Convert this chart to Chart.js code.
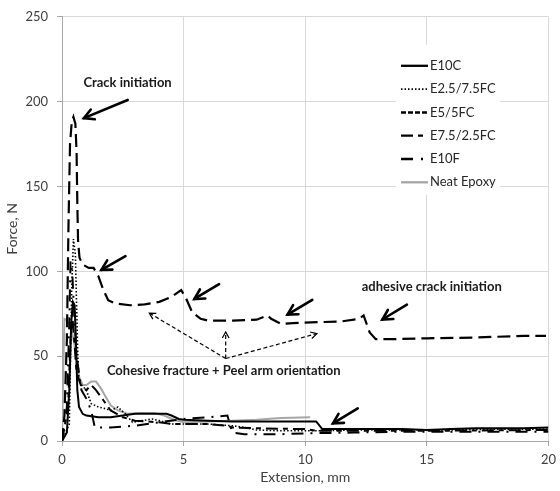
<!DOCTYPE html>
<html>
<head>
<meta charset="utf-8">
<script src="https://cdn.jsdelivr.net/npm/chart.js@4.4.1/dist/chart.umd.min.js"></script>
<style>
  html, body { margin: 0; padding: 0; background: #fff; overflow: hidden; }
  .chart-container { position: relative; width: 562px; height: 491px; }
</style>
</head>
<body>
<div class="chart-container"><canvas id="peelChart"></canvas></div>
<script>
// axis ticks
const xTicks = [0, 5, 10, 15, 20];
const yTicks = [0, 50, 100, 150, 200, 250];

// Extension (mm) and force (N)
const e10cExt   = [0, 0.2, 0.3, 0.38, 0.45, 0.52, 0.58, 0.63, 0.7, 0.85, 1.0, 1.5, 2.0, 2.5, 3.0, 3.5, 4.0, 4.3, 4.5, 4.8, 5.0, 6.0, 7.0, 8.0, 9.0, 10.0, 10.45, 10.7, 12, 13, 14, 15, 16, 17, 18, 19, 20];
const e10cForce = [0, 5, 30, 70, 82, 80, 55, 30, 20, 16, 15, 14, 14, 15, 16, 16, 16, 16, 15, 13, 12.5, 12, 11.5, 11.5, 11.5, 11.5, 11.5, 7, 7, 7, 7, 6.5, 7, 7.5, 7.5, 7.5, 8];

const e25Ext   = [0, 0.3, 0.4, 0.47, 0.55, 0.6, 0.65, 0.7, 0.8, 1.0, 1.2, 1.5, 1.8, 2.0, 2.3, 2.6, 2.9, 3.3, 3.7, 4.0, 4.5, 5.0, 6.0, 7.0, 7.5, 8.0, 9.0, 10.0, 10.5, 12, 14, 16, 18, 20];
const e25Force = [0, 10, 90, 119, 110, 80, 50, 36, 33, 30, 22, 20, 19, 18, 20, 16, 11, 12, 13, 12, 10, 10, 10, 9, 8, 6.5, 6, 6, 6, 6.5, 6.5, 6.5, 7, 7];

const e5Ext   = [0, 0.1, 0.2, 0.27, 0.33, 0.4, 0.47, 0.55, 0.6, 0.63, 0.66, 0.72, 0.85, 1.1, 1.3, 1.5, 1.7, 1.9, 2.2, 2.8, 3.4, 4.0, 4.5, 4.9, 5.1, 5.35, 5.7, 6.0, 7.0, 8.0, 8.45, 8.6, 9.0, 9.5, 10.5, 11.5, 12.2, 12.4, 12.65, 12.9, 13.5, 15, 17, 19, 19.9];
const e5Force = [0, 15, 60, 130, 175, 188, 191, 187, 170, 140, 118, 108, 104, 102, 102, 97, 89, 83, 81, 80, 80.5, 82, 85, 89, 84, 76, 72, 71, 71, 71.5, 74, 72, 69, 69.5, 70, 70.5, 72, 74, 64, 60, 60, 60.5, 61, 62, 62];

const e75Ext   = [0, 0.25, 0.35, 0.42, 0.5, 0.6, 0.8, 1.0, 1.2, 1.4, 1.7, 2.0, 2.5, 3.0, 4.0, 4.5, 5.0, 6.0, 6.8, 7.0, 8.0, 10.0, 10.5, 12, 15, 20];
const e75Force = [0, 20, 60, 75, 60, 40, 32, 30, 33, 30, 24, 18, 14, 12, 11, 10, 10, 10, 9, 8, 7.5, 7, 6, 6, 6, 6.5];

const e10fExt   = [0, 0.2, 0.3, 0.35, 0.42, 0.5, 0.6, 0.8, 1.0, 1.2, 1.35, 2.0, 3.0, 4.0, 5.0, 6.0, 6.8, 7.0, 7.5, 9.0, 10.0, 12, 14, 16, 18, 20];
const e10fForce = [0, 20, 70, 106, 100, 75, 50, 30, 25, 18, 8, 8, 9, 11, 13, 14, 15, 5, 4, 4, 4.5, 5, 5.5, 5.5, 5.5, 5.5];

const neatExt   = [0, 0.05, 0.1, 0.2, 0.3, 0.4, 0.5, 0.6, 0.7, 0.85, 1.0, 1.2, 1.4, 1.6, 1.8, 2.0, 2.3, 2.7, 3.2, 3.8, 4.2, 4.6, 5.0, 6.0, 7.0, 8.0, 9.0, 10.2];
const neatForce = [0, 40, 72, 71, 69, 65, 58, 48, 38, 33, 33, 35, 35, 31, 26, 21, 18, 16, 16.5, 16.5, 15, 12.5, 11, 11.5, 12, 12.5, 13.5, 14];

const seriesNames = ['E10C', 'E2.5/7.5FC', 'E5/5FC', 'E7.5/2.5FC', 'E10F', 'Neat Epoxy'];

function pts(xs, ys) {
  return xs.map((x, i) => ({ x: x, y: ys[i] }));
}

const styles = [
  { color: '#000', width: 2,   dash: [],               legendDash: [] },
  { color: '#000', width: 1.6, dash: [1.5, 2],         legendDash: [1.5, 2] },
  { color: '#000', width: 2.2, dash: [13, 6],          legendDash: [5, 2] },
  { color: '#000', width: 2,   dash: [12, 5, 5, 5],    legendDash: [12, 5, 5, 5] },
  { color: '#000', width: 2,   dash: [12, 7, 2, 7],    legendDash: [12, 8, 2, 8] },
  { color: '#a6a6a6', width: 2, dash: [],              legendDash: [] }
];

const seriesData = [
  pts(e10cExt, e10cForce),
  pts(e25Ext, e25Force),
  pts(e5Ext, e5Force),
  pts(e75Ext, e75Force),
  pts(e10fExt, e10fForce),
  pts(neatExt, neatForce)
];

// annotations, in data units (mm, N)
const notes = [
  { text: 'Crack initiation', x: 0.88, y: 211, align: 'left' },
  { text: 'adhesive crack initiation', x: 15.2, y: 91, align: 'center' },
  { text: 'Cohesive fracture + Peel arm orientation', x: 6.65, y: 41.5, align: 'center' }
];
const solidArrows = [
  [2.70, 201, 0.90, 190.3],
  [2.61, 109, 1.62, 100.9],
  [6.46, 92.5, 5.44, 83.7],
  [10.29, 83.2, 9.27, 74.5],
  [14.18, 80.4, 13.17, 71.6],
  [12.16, 19.2, 11.14, 10.4]
];
const dashedArrows = [
  [6.73, 48.6, 6.73, 64.3],
  [6.73, 48.6, 3.59, 75.4],
  [6.73, 48.6, 10.48, 63.3]
];

function arrow(ctx, x1, y1, x2, y2, head) {
  const a = Math.atan2(y2 - y1, x2 - x1);
  ctx.beginPath();
  ctx.moveTo(x1, y1);
  ctx.lineTo(x2, y2);
  ctx.stroke();
  ctx.setLineDash([]);
  ctx.beginPath();
  ctx.moveTo(x2 - head * Math.cos(a - 0.5), y2 - head * Math.sin(a - 0.5));
  ctx.lineTo(x2, y2);
  ctx.lineTo(x2 - head * Math.cos(a + 0.5), y2 - head * Math.sin(a + 0.5));
  ctx.stroke();
}

const notesPlugin = {
  id: 'notes',
  afterDatasetsDraw(chart) {
    const ctx = chart.ctx;
    const xs = chart.scales.x, ys = chart.scales.y;
    ctx.save();
    ctx.strokeStyle = '#000';
    ctx.lineCap = 'round';
    ctx.lineJoin = 'miter';
    ctx.lineWidth = 2.6;
    solidArrows.forEach(a => {
      ctx.setLineDash([]);
      arrow(ctx, xs.getPixelForValue(a[0]), ys.getPixelForValue(a[1]),
        xs.getPixelForValue(a[2]), ys.getPixelForValue(a[3]), 11);
    });
    ctx.lineWidth = 1.2;
    ctx.lineCap = 'butt';
    dashedArrows.forEach(a => {
      ctx.setLineDash([4, 2.5]);
      arrow(ctx, xs.getPixelForValue(a[0]), ys.getPixelForValue(a[1]),
        xs.getPixelForValue(a[2]), ys.getPixelForValue(a[3]), 7);
    });
    ctx.setLineDash([]);
    ctx.fillStyle = '#1a1a1a';
    ctx.font = 'bold 13px Lato';
    ctx.textBaseline = 'middle';
    notes.forEach(n => {
      ctx.textAlign = n.align;
      ctx.fillText(n.text, xs.getPixelForValue(n.x), ys.getPixelForValue(n.y));
    });
    ctx.restore();
  },
  afterDraw(chart) {
    // legend box inside the plot, as in the original
    const ctx = chart.ctx;
    const area = chart.chartArea;
    const left = area.left + 334, top = area.top + 28;
    ctx.save();
    ctx.fillStyle = '#fff';
    ctx.fillRect(left, top, 104, 150);
    ctx.font = '13px Lato';
    ctx.textBaseline = 'middle';
    ctx.textAlign = 'left';
    seriesNames.forEach((name, i) => {
      const y = top + 21 + i * 23.3;
      const s = styles[i];
      ctx.strokeStyle = s.color;
      ctx.lineWidth = s.width + 0.3;
      ctx.setLineDash(s.legendDash);
      ctx.beginPath();
      ctx.moveTo(left + 5, y);
      ctx.lineTo(left + 32, y);
      ctx.stroke();
      ctx.fillStyle = '#262626';
      ctx.fillText(name, left + 34, y);
    });
    ctx.restore();
  }
};

Chart.defaults.font.family = 'Lato';
Chart.defaults.color = '#404040';

const ctx = document.getElementById('peelChart');
const peelChart = new Chart(ctx, {
  type: 'scatter',
  data: {
    datasets: seriesNames.map((name, i) => ({
      label: name,
      data: seriesData[i],
      showLine: true,
      borderColor: styles[i].color,
      backgroundColor: styles[i].color,
      borderWidth: styles[i].width,
      borderDash: styles[i].dash,
      pointRadius: 0,
      pointHoverRadius: 0,
      tension: 0
    }))
  },
  options: {
    responsive: true,
    maintainAspectRatio: false,
    animation: false,
    layout: { padding: { top: 15, right: 8, bottom: 0, left: 0 } },
    plugins: {
      legend: { display: false },
      tooltip: { enabled: false }
    },
    scales: {
      x: {
        type: 'linear',
        min: xTicks[0],
        max: xTicks[xTicks.length - 1],
        afterBuildTicks(scale) { scale.ticks = xTicks.map(v => ({ value: v })); },
        afterFit(scale) { scale.height = 50; },
        grid: { color: '#d9d9d9', tickColor: '#a6a6a6', tickLength: 5 },
        border: { color: '#a6a6a6' },
        ticks: { font: { size: 13 }, padding: 6, maxRotation: 0 },
        title: { display: true, text: 'Extension, mm', font: { size: 14 }, padding: { top: 0, bottom: 5 } }
      },
      y: {
        type: 'linear',
        min: yTicks[0],
        max: yTicks[yTicks.length - 1],
        afterBuildTicks(scale) { scale.ticks = yTicks.map(v => ({ value: v })); },
        afterFit(scale) { scale.width = 62; },
        grid: { color: '#d9d9d9', tickColor: '#a6a6a6', tickLength: 5 },
        border: { color: '#a6a6a6' },
        ticks: { font: { size: 13 }, padding: 9 },
        title: { display: true, text: 'Force, N', font: { size: 14 }, padding: { top: 4, bottom: 0 } }
      }
    }
  },
  plugins: [notesPlugin]
});
</script>
</body>
</html>
